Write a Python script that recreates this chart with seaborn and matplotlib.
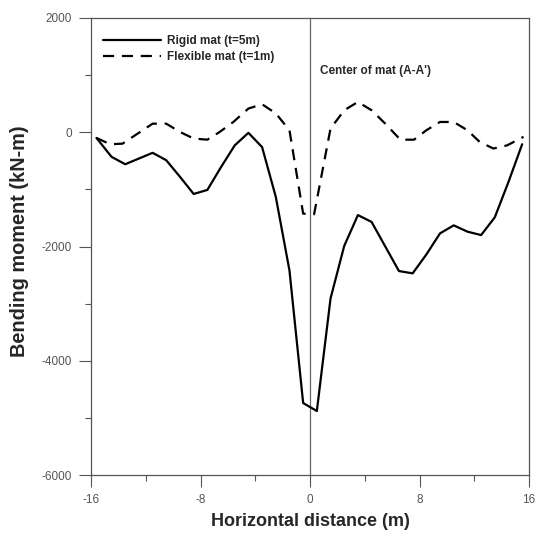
import matplotlib
matplotlib.use("Agg")
import matplotlib.pyplot as plt
import seaborn as sns
import pandas as pd
from matplotlib.ticker import MultipleLocator

# Data
rigid_x = [-15.6, -14.5, -13.5, -11.5, -10.5, -9.5, -8.5, -7.5, -6.5, -5.5, -4.5,
           -3.5, -2.5, -1.5, -0.5, 0.5, 1.5, 2.5, 3.5, 4.5, 6.5, 7.5, 8.5, 9.5,
           10.5, 11.5, 12.5, 13.5, 14.5, 15.5]
rigid_y = [-100, -430, -560, -360, -490, -780, -1080, -1010, -610, -230, -10,
           -260, -1130, -2420, -4740, -4880, -2910, -1990, -1450, -1570, -2430,
           -2470, -2140, -1770, -1630, -1740, -1800, -1490, -870, -210]

flex_x = [-15.6, -14.6, -13.7, -11.5, -10.5, -9.5, -8.5, -7.5, -6.6, -5.6, -4.5,
          -3.5, -2.5, -1.5, -0.5, 0.3, 1.5, 2.5, 3.5, 4.5, 5.5, 6.6, 7.6, 8.5,
          9.5, 10.5, 11.5, 12.4, 13.4, 14.4, 15.6]
flex_y = [-100, -210, -200, 150, 150, 5, -110, -130, 5, 180, 415, 490, 330, 35,
          -1425, -1435, 65, 385, 530, 385, 150, -130, -130, 35, 180, 180, 35,
          -170, -285, -230, -80]

labels = ["Rigid mat (t=5m)", "Flexible mat (t=1m)"]
xticks = [-16, -8, 0, 8, 16]
yticks = [-6000, -4000, -2000, 0, 2000]

df = pd.concat([
    pd.DataFrame({"x": rigid_x, "y": rigid_y, "series": labels[0]}),
    pd.DataFrame({"x": flex_x, "y": flex_y, "series": labels[1]}),
], ignore_index=True)

sns.set_style("ticks")
plt.rcParams["font.family"] = ["Liberation Sans", "DejaVu Sans"]
plt.rcParams["axes.unicode_minus"] = False

fig = plt.figure(figsize=(5.36, 5.38), dpi=100)
ax = fig.add_axes([91/536, 1 - 475/538, (529 - 91)/536, (475 - 18)/538])

ax.axvline(0, color="#666666", lw=0.9, zorder=1)

sns.lineplot(data=df, x="x", y="y", hue="series", style="series",
             palette=["black", "black"], dashes=[(None, None), (5, 3.5)],
             sort=False, lw=1.6, ax=ax, legend=True, estimator=None)

ax.set_xlim(-16, 16)
ax.set_ylim(-6000, 2000)
ax.set_xticks(xticks)
ax.set_yticks(yticks)
ax.xaxis.set_minor_locator(MultipleLocator(4))
ax.yaxis.set_minor_locator(MultipleLocator(1000))
ax.tick_params(which="major", length=8.5, width=0.8, color="#555555",
               labelsize=8.5, labelcolor="#555555", pad=5)
ax.tick_params(which="minor", length=4.5, width=0.8, color="#555555")
for s in ax.spines.values():
    s.set_color("#555555")
    s.set_linewidth(0.9)

ax.set_xlabel("Horizontal distance (m)", fontsize=13, fontweight="bold", labelpad=5)
ax.set_ylabel("Bending moment (kN-m)", fontsize=14.3, fontweight="bold", labelpad=9)
ax.yaxis.set_label_coords(-0.141, 0.512)

leg = ax.legend(loc="upper left", frameon=False,
                prop={"weight": "bold", "size": 8.5},
                bbox_to_anchor=((103 - 91) / 438, 1 - (35 - 18) / 457),
                handlelength=4.9, handletextpad=0.5, borderaxespad=0,
                borderpad=0, labelspacing=0.35)

ax.text(0.7, 1070, "Center of mat (A-A')", fontsize=8.5, fontweight="bold",
        ha="left", va="center")

fig.savefig("out.png", dpi=100)
